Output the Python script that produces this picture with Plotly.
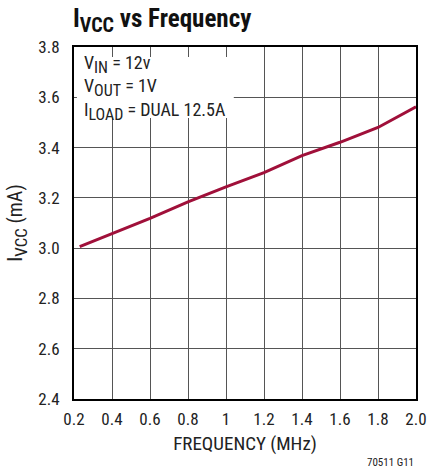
import plotly.graph_objects as go

freq_mhz = [0.23, 0.4, 0.5, 0.6, 0.8, 1.0, 1.2, 1.4, 1.6, 1.8, 2.0]
ivcc_ma = [3.006, 3.058, 3.087, 3.118, 3.184, 3.244, 3.300, 3.368, 3.421, 3.480, 3.562]

x_tickvals = [0.2, 0.4, 0.6, 0.8, 1.0, 1.2, 1.4, 1.6, 1.8, 2.0]
x_ticktext = ["0.2", "0.4", "0.6", "0.8", "1", "1.2", "1.4", "1.6", "1.8", "2.0"]
y_tickvals = [2.4, 2.6, 2.8, 3.0, 3.2, 3.4, 3.6, 3.8]
y_ticktext = ["2.4", "2.6", "2.8", "3.0", "3.2", "3.4", "3.6", "3.8"]

FONT = "Liberation Sans Narrow, Roboto Condensed, Arial Narrow, Liberation Sans, sans-serif"

W, H = 439, 472
L, R, T, B = 74, 14, 47, 73
PW, PH = W - L - R, H - T - B


def px_x(x):  # window x pixel -> paper
    return (x - L) / PW


def px_y(y):  # window y pixel -> paper
    return (H - B - y) / PH


def sub(t, size):
    return f'<sub><span style="font-size:{size}px">{t}</span></sub>'


fig = go.Figure()
fig.add_trace(go.Scatter(x=freq_mhz, y=ivcc_ma, mode="lines",
                         line=dict(color="#a0103a", width=3), showlegend=False,
                         hoverinfo="skip"))

fig.update_layout(
    width=W, height=H,
    margin=dict(l=L, r=R, t=T, b=B),
    paper_bgcolor="white", plot_bgcolor="white",
    font=dict(family=FONT, size=17, color="#222"),
    title=dict(text="I" + sub("VCC", 20) + " vs Frequency", x=73 / W, xanchor="left",
               y=1 - 18 / H, yanchor="middle",
               font=dict(family=FONT, size=25, color="#111", weight="bold")),
    xaxis=dict(range=[0.2, 2.0], tickvals=x_tickvals, ticktext=x_ticktext,
               showgrid=True, gridcolor="#555", gridwidth=1,
               showline=True, linecolor="black", linewidth=2, mirror=True,
               ticks="", zeroline=False, ticklabelstandoff=4,
               title=dict(text="FREQUENCY (MHz)", standoff=8, font=dict(size=19))),
    yaxis=dict(range=[2.4, 3.8], tickvals=y_tickvals, ticktext=y_ticktext,
               showgrid=True, gridcolor="#555", gridwidth=1,
               showline=True, linecolor="black", linewidth=2, mirror=True,
               ticks="", zeroline=False, ticklabelstandoff=9,
               title=dict(text="I" + sub("VCC", 17) + " (mA)", standoff=10, font=dict(size=20))),
)

fig.add_shape(type="rect", xref="paper", yref="paper",
              x0=px_x(77), x1=px_x(238), y0=px_y(118), y1=px_y(57),
              fillcolor="white", line=dict(width=0), layer="above")

fig.add_annotation(xref="paper", yref="paper", x=px_x(82), y=px_y(50),
                   xanchor="left", yanchor="top", align="left", showarrow=False,
                   text="V" + sub("IN", 16) + " = 12v<br>V" + sub("OUT", 16) + " = 1V<br>I"
                        + sub("LOAD", 16) + " = DUAL 12.5A",
                   font=dict(family=FONT, size=18, color="#222"))

fig.add_annotation(xref="paper", yref="paper", x=px_x(425), y=px_y(462),
                   xanchor="right", yanchor="middle", showarrow=False,
                   text="70511 G11", font=dict(family=FONT, size=11, color="#222"))

fig.write_html("out.html", config={"displayModeBar": False},
               post_script="document.body.style.margin='0';document.body.style.padding='0';")
